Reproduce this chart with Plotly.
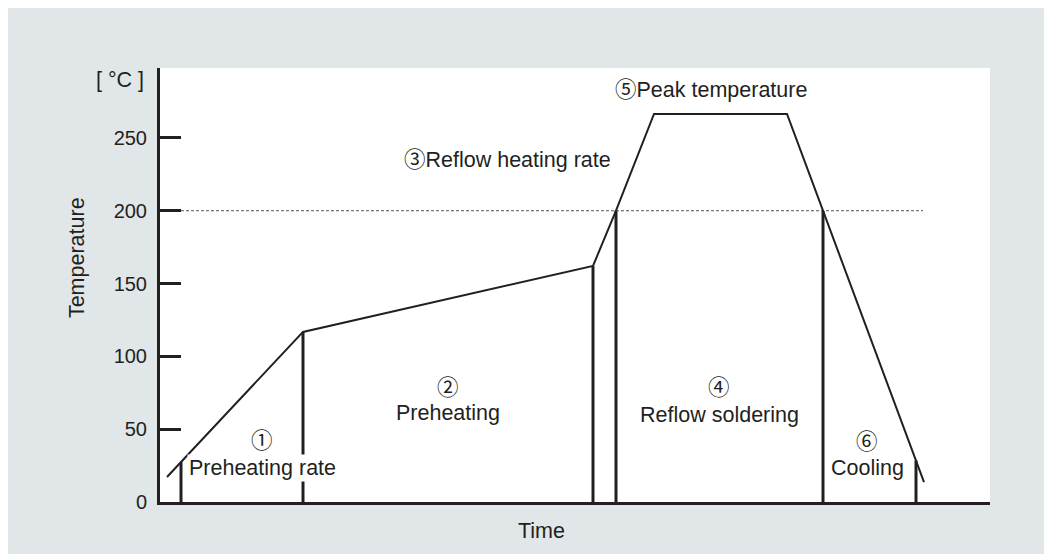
import plotly.graph_objects as go

# Reflow profile (time in arbitrary units, temperature in °C)
profile_time = [7, 143, 433, 456, 494, 627, 663, 764]
profile_temp = [17.2, 116.8, 162.1, 200, 266.5, 266.5, 200, 13.7]

# Phase boundary markers (vertical bars from 0 up to the curve)
boundary_time = [21, 143, 433, 456, 663, 756]
boundary_temp = [27.4, 116.8, 162.1, 200, 200, 28.5]

# Reference line at 200 °C
ref_time = [21, 763]
ref_temp = [200, 200]

y_ticks = [0, 50, 100, 150, 200, 250]

phase_labels = [
    # (x, y, text, white background)
    (102, 41.9, "①", False),
    (102, 23.4, "Preheating rate", True),
    (288, 78.3, "②", False),
    (288, 61.1, "Preheating", False),
    (347, 234.9, "③Reflow heating rate", False),
    (559, 78.3, "④", False),
    (559, 59.8, "Reflow soldering", False),
    (551, 283.0, "⑤Peak temperature", False),
    (707, 41.2, "⑥", False),
    (707, 23.4, "Cooling", False),
]

INK = "#231f20"
FONT = "Liberation Sans, Arial, Noto Sans CJK JP, sans-serif"
TXT = 21.5

fig = go.Figure()

fig.add_trace(go.Scatter(x=ref_time, y=ref_temp, mode="lines",
                         line=dict(color="#555555", width=1, dash="3px,2px"),
                         hoverinfo="skip", showlegend=False))

for t, temp in zip(boundary_time, boundary_temp):
    fig.add_trace(go.Scatter(x=[t, t], y=[0, temp], mode="lines",
                             line=dict(color=INK, width=3),
                             hoverinfo="skip", showlegend=False))

fig.add_trace(go.Scatter(x=profile_time, y=profile_temp, mode="lines",
                         line=dict(color=INK, width=2),
                         hoverinfo="skip", showlegend=False))

annotations = []
for x, y, txt, bg in phase_labels:
    a = dict(x=x, y=y, xref="x", yref="y", text=txt, showarrow=False,
             font=dict(size=TXT, color=INK, family=FONT),
             xanchor="center", yanchor="middle")
    if bg:
        a["bgcolor"] = "white"
    annotations.append(a)

annotations.append(dict(x=0.460, y=-0.0668, xref="paper", yref="paper", text="Time",
                        showarrow=False, font=dict(size=TXT, color=INK, family=FONT),
                        xanchor="center", yanchor="middle"))
annotations.append(dict(x=-0.0169, y=0.972, xref="paper", yref="paper", text="[ °C ]",
                        showarrow=False, font=dict(size=TXT, color=INK, family=FONT),
                        xanchor="right", yanchor="middle"))
annotations.append(dict(x=-0.100, y=0.562, xref="paper", yref="paper", text="Temperature",
                        textangle=-90, showarrow=False,
                        font=dict(size=TXT, color=INK, family=FONT),
                        xanchor="center", yanchor="middle"))

fig.update_layout(
    width=1044, height=546,
    margin=dict(l=152, r=62, t=60, b=52),
    paper_bgcolor="#e1e6e9",
    plot_bgcolor="white",
    showlegend=False,
    annotations=annotations,
    xaxis=dict(range=[0, 830], showgrid=False, zeroline=False, showline=True,
               linecolor=INK, linewidth=3, showticklabels=False, ticks="",
               fixedrange=True),
    yaxis=dict(range=[0, 298], showgrid=False, zeroline=False, showline=True,
               linecolor=INK, linewidth=3, ticks="inside", ticklen=21, tickwidth=3,
               tickcolor=INK, tickvals=y_ticks, ticktext=[str(v) for v in y_ticks],
               ticklabelstandoff=6,
               tickfont=dict(size=20, color=INK, family=FONT), fixedrange=True),
)

fig.write_html("out.html")
